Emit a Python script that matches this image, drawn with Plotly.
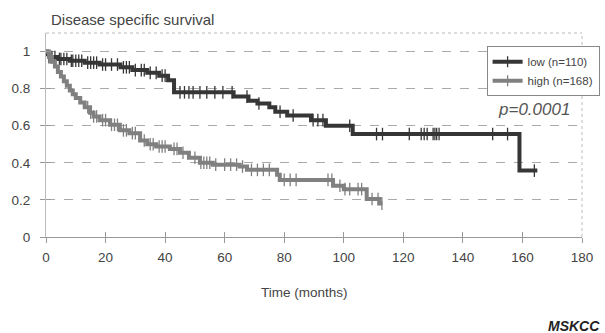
import numpy as np
import plotly.graph_objects as go

# ---- data ----
low_t = [0, 0.5, 1, 4, 8, 13, 18, 25, 29, 34, 38, 41, 43, 63, 68, 71, 75, 77, 81, 89, 94, 103, 159, 165]
low_s = [1.0, 0.985, 0.97, 0.96, 0.95, 0.94, 0.93, 0.915, 0.90, 0.885, 0.87, 0.845, 0.78, 0.757,
         0.735, 0.72, 0.70, 0.675, 0.655, 0.63, 0.60, 0.555, 0.358, 0.358]
low_cens = [1, 2, 3, 4.5, 5, 6, 7, 8.5, 9, 10, 11, 12, 14, 15, 16, 17, 19, 20, 22, 24, 26, 27, 28,
            30, 32, 33, 35, 37, 39, 40, 45, 46.5, 48, 49.4, 51.7, 54, 56.7, 59.4, 62.5, 67.5, 71.5,
            78.6, 83, 89.7, 91.3, 93, 102, 111, 113, 122, 126, 127, 128, 130, 130.6, 131.2, 132,
            150, 155, 164]

high_t = [0, 1, 2, 3, 4, 5, 6, 7, 8, 9, 10, 11.5, 13, 14.8, 16, 18, 21.5, 24.8, 28, 31.6, 34, 37,
          41.6, 45, 48, 51.7, 56, 65, 67.5, 77.6, 78.5, 96.4, 100, 107.7, 112, 113]
high_s = [1.0, 0.97, 0.945, 0.92, 0.89, 0.865, 0.84, 0.815, 0.79, 0.77, 0.75, 0.725, 0.70, 0.67,
          0.65, 0.63, 0.605, 0.575, 0.56, 0.52, 0.50, 0.488, 0.475, 0.454, 0.427, 0.40, 0.39, 0.38,
          0.362, 0.335, 0.308, 0.276, 0.258, 0.205, 0.18, 0.18]
high_cens = [14, 15, 16, 17, 19, 20, 22, 23, 24, 26, 27, 29, 30, 33, 35, 36, 38, 39, 40, 43, 44,
             46, 50, 52, 53, 54, 55, 57, 60, 62, 64, 66, 69, 71, 73, 75, 80, 82, 84, 94.7, 96,
             98.7, 100.4, 102, 104.8, 106, 109.5, 111.5, 112.8]

groups = ["low (n=110)", "high (n=168)"]
colors = ["#363636", "#808080"]

x_ticks = [0, 20, 40, 60, 80, 100, 120, 140, 160, 180]
y_ticks = [0, 0.2, 0.4, 0.6, 0.8, 1]


def step_at(ts, ss, q):
    idx = np.searchsorted(np.array(ts), np.array(q), side="right") - 1
    return list(np.array(ss)[idx])


fig = go.Figure()
for name, col, ts, ss, cens in [(groups[0], colors[0], low_t, low_s, low_cens),
                                 (groups[1], colors[1], high_t, high_s, high_cens)]:
    fig.add_trace(go.Scatter(x=ts, y=ss, mode="lines", line=dict(color=col, width=4, shape="hv"),
                             showlegend=False, hoverinfo="skip"))
    fig.add_trace(go.Scatter(x=cens, y=step_at(ts, ss, cens), mode="markers",
                             marker=dict(symbol="line-ns", size=9, color=col,
                                         line=dict(color=col, width=1.3)),
                             showlegend=False, hoverinfo="skip"))
    fig.add_trace(go.Scatter(x=[None], y=[None], mode="lines+markers", name=name,
                             line=dict(color=col, width=4),
                             marker=dict(symbol="line-ns", size=8, color=col,
                                         line=dict(color=col, width=1.3))))

font_family = "Liberation Sans, Arial, sans-serif"
fig.update_layout(
    width=605, height=333,
    margin=dict(l=46, r=23, t=33, b=96, autoexpand=False),
    paper_bgcolor="white", plot_bgcolor="white",
    font=dict(family=font_family, size=13, color="#444"),
    showlegend=True,
    legend=dict(x=0.822, y=0.935, xanchor="left", yanchor="top",
                bgcolor="white", bordercolor="#888", borderwidth=1,
                font=dict(size=11.5, color="#444"), itemwidth=30,
                tracegroupgap=0),
    xaxis=dict(range=[0, 180], tickvals=x_ticks, showgrid=False, zeroline=False,
               showline=True, linecolor="#999", linewidth=1,
               ticks="outside", ticklen=5, tickcolor="#999", ticklabelstandoff=3,
               tickfont=dict(size=13.5)),
    yaxis=dict(range=[0, 1.1], tickvals=y_ticks, showgrid=True, gridcolor="#aaa",
               griddash="dash", gridwidth=1, zeroline=False,
               showline=True, linecolor="#bbb", linewidth=1,
               ticks="outside", ticklen=5, tickcolor="#999", ticklabelstandoff=7,
               tickfont=dict(size=13.5)),
    xaxis2=dict(range=[0, 180], tickvals=x_ticks, overlaying="x", matches="x",
                showticklabels=False, showgrid=False, zeroline=False, ticks="inside",
                ticklen=5, tickcolor="#999", anchor="y"),
    yaxis2=dict(range=[0, 1.1], tickvals=y_ticks, overlaying="y", matches="y",
                showticklabels=False, showgrid=False, zeroline=False, ticks="inside",
                ticklen=5, tickcolor="#999", anchor="x"),
)
# dummy trace to activate overlay axes for the inside tick halves
fig.add_trace(go.Scatter(x=[None], y=[None], xaxis="x2", yaxis="y2", showlegend=False))

# plot frame: dotted top and right borders
fig.add_shape(type="line", xref="paper", yref="paper", x0=0, x1=1, y0=1, y1=1,
              line=dict(color="#bbb", width=1, dash="dot"))
fig.add_shape(type="line", xref="paper", yref="paper", x0=1, x1=1, y0=0, y1=1,
              line=dict(color="#bbb", width=1, dash="dot"))

fig.add_annotation(text="Disease specific survival", xref="paper", yref="paper",
                   x=0.005, y=1.015, xanchor="left", yanchor="bottom", showarrow=False,
                   font=dict(size=15, color="#444"))
fig.add_annotation(text="Time (months)", xref="paper", yref="paper",
                   x=0.482, y=-0.27, xanchor="center", yanchor="middle", showarrow=False,
                   font=dict(size=13.5, color="#444"))
fig.add_annotation(text="<i>p=0.0001</i>", xref="x", yref="y", x=176.5, y=0.685,
                   xanchor="right", yanchor="middle", showarrow=False,
                   font=dict(size=17, color="#555"))
fig.add_annotation(text="<b><i>MSKCC</i></b>", xref="paper", yref="paper", x=1.037, y=-0.435,
                   xanchor="right", yanchor="middle", showarrow=False,
                   font=dict(size=14, color="#222"))

fig.write_html("out.html")
